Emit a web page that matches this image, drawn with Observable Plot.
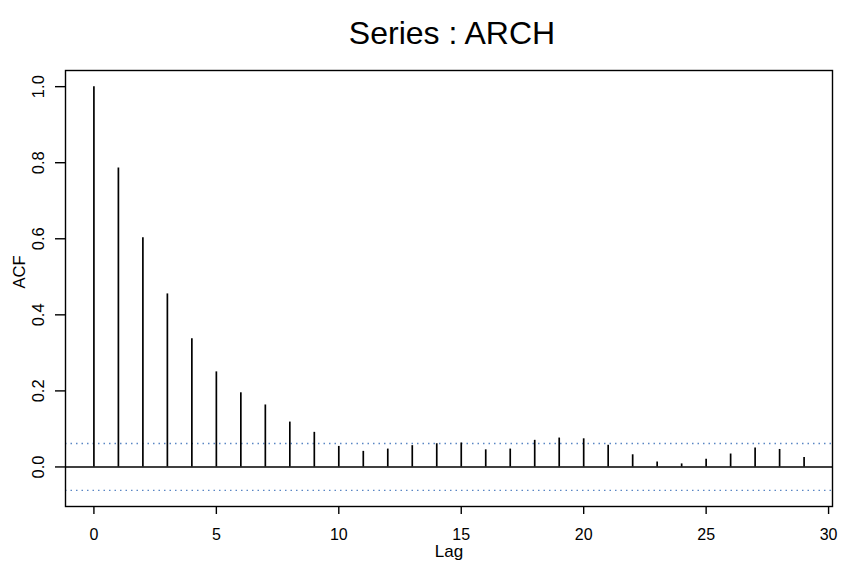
<!DOCTYPE html>
<html><head><meta charset="utf-8">
<script src="https://cdn.jsdelivr.net/npm/d3@7"></script>
<script src="https://cdn.jsdelivr.net/npm/@observablehq/plot@0.6"></script>
<style>body{margin:0;background:#fff}</style>
</head><body><div id="chart"></div>
<script>
const lags = [0,1,2,3,4,5,6,7,8,9,10,11,12,13,14,15,16,17,18,19,20,21,22,23,24,25,26,27,28,29];
const acf = [1.0,0.786,0.603,0.455,0.337,0.25,0.195,0.163,0.118,0.091,0.054,0.041,0.047,0.056,0.061,0.063,0.045,0.047,0.070,0.076,0.074,0.057,0.032,0.013,0.008,0.020,0.034,0.050,0.046,0.025];
const clim = 0.0616;
const xTicks = [0,5,10,15,20,25,30];
const yTicks = [0,0.2,0.4,0.6,0.8,1.0];
const yTickLabels = ["0.0","0.2","0.4","0.6","0.8","1.0"];
const title = "Series : ARCH";
const xLabel = "Lag";
const yLabel = "ACF";

const rows = lags.map((l,i) => ({lag: l, acf: acf[i]}));

const chart = Plot.plot({
  width: 841, height: 563,
  marginLeft: 65, marginRight: 9, marginTop: 70, marginBottom: 57,
  style: {fontFamily: "'Liberation Sans', Arial, sans-serif", background: "white", color: "black"},
  x: {domain: [-1.16, 30.16]},
  y: {domain: [-0.104, 1.0425]},
  marks: [
    Plot.ruleY([clim, -clim], {stroke: "#5a86c4", strokeWidth: 1.4, strokeDasharray: "1.5,4"}),
    Plot.ruleY([0], {stroke: "black", strokeWidth: 1.4}),
    Plot.ruleX(rows, {x: "lag", y1: 0, y2: "acf", stroke: "black", strokeWidth: 1.7}),
    Plot.frame({stroke: "black", strokeWidth: 1.4}),
    Plot.axisX({ticks: xTicks, tickSize: 8, tickPadding: 14.5, label: null, fontSize: 16, strokeWidth: 1.4}),
    Plot.axisY({ticks: yTicks, tickSize: 10, tickFormat: () => "", label: null, strokeWidth: 1.4}),
    Plot.text(yTicks, {y: d => d, text: (d, i) => yTickLabels[i], frameAnchor: "left", dx: -26.5, rotate: -90, textAnchor: "middle", lineAnchor: "middle", fontSize: 16.5}),
    Plot.text([title], {frameAnchor: "top", dy: -37, dx: 3, lineAnchor: "middle", fontSize: 32}),
    Plot.text([xLabel], {frameAnchor: "bottom", dy: 45.5, lineAnchor: "middle", fontSize: 17}),
    Plot.text([yLabel], {frameAnchor: "left", dx: -45.5, rotate: -90, lineAnchor: "middle", fontSize: 16.5})
  ]
});
document.getElementById("chart").append(chart);
</script>
</body></html>
